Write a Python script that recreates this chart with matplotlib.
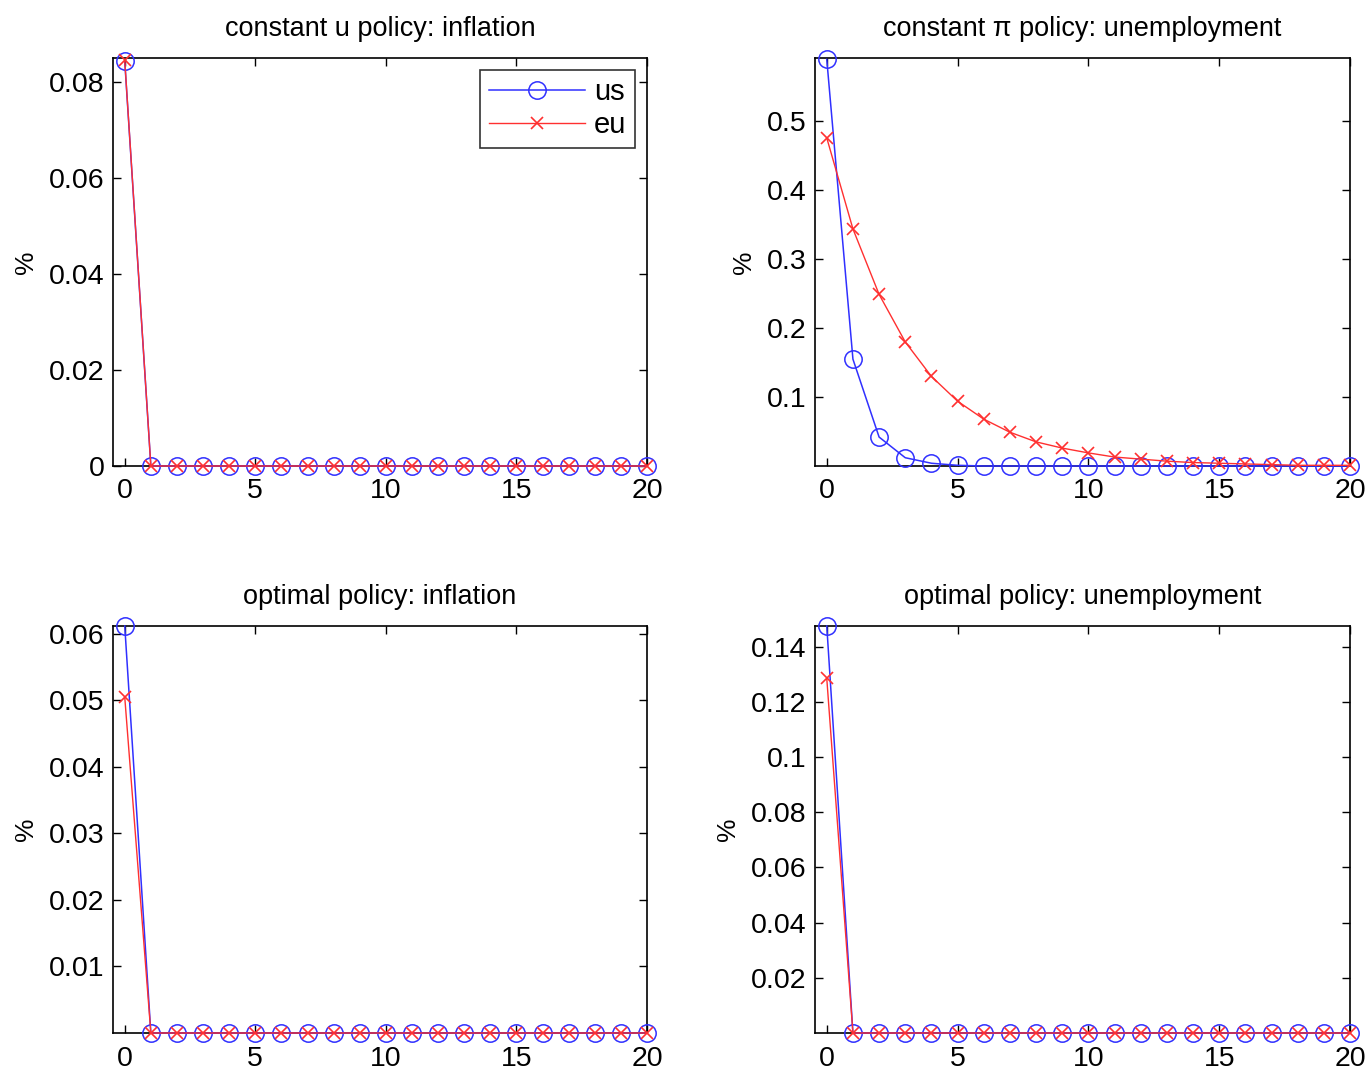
import numpy as np
import matplotlib
matplotlib.use("Agg")
import matplotlib.pyplot as plt

plt.rcParams['font.family'] = ['Liberation Sans', 'DejaVu Sans']

t = np.arange(0, 21)

# constant u policy: inflation
cu_infl_us = [0.0843] + [0.0] * 20
cu_infl_eu = [0.0845] + [0.0] * 20

# constant pi policy: unemployment
cp_unemp_us = [0.590, 0.155, 0.042, 0.012, 0.004, 0.001, 0.0, 0.0, 0.0, 0.0, 0.0,
               0.0, 0.0, 0.0, 0.0, 0.0, 0.0, 0.0, 0.0, 0.0, 0.0]
cp_unemp_eu = [0.476, 0.344, 0.249, 0.180, 0.130, 0.094, 0.068, 0.049, 0.035, 0.026, 0.019,
               0.013, 0.010, 0.007, 0.005, 0.004, 0.003, 0.002, 0.001, 0.001, 0.001]

# optimal policy: inflation
op_infl_us = [0.0612] + [0.0] * 20
op_infl_eu = [0.0505] + [0.0] * 20

# optimal policy: unemployment
op_unemp_us = [0.1475] + [0.0] * 20
op_unemp_eu = [0.1285] + [0.0] * 20

panels = [
    ("constant u policy: inflation", cu_infl_us, cu_infl_eu, (0, 0.085), [0, 0.02, 0.04, 0.06, 0.08],
     ["0", "0.02", "0.04", "0.06", "0.08"]),
    ("constant \u03c0 policy: unemployment", cp_unemp_us, cp_unemp_eu, (0, 0.592), [0.1, 0.2, 0.3, 0.4, 0.5],
     ["0.1", "0.2", "0.3", "0.4", "0.5"]),
    ("optimal policy: inflation", op_infl_us, op_infl_eu, (0, 0.0612), [0.01, 0.02, 0.03, 0.04, 0.05, 0.06],
     ["0.01", "0.02", "0.03", "0.04", "0.05", "0.06"]),
    ("optimal policy: unemployment", op_unemp_us, op_unemp_eu, (0, 0.1475),
     [0.02, 0.04, 0.06, 0.08, 0.1, 0.12, 0.14],
     ["0.02", "0.04", "0.06", "0.08", "0.1", "0.12", "0.14"]),
]

W, H = 1369, 1073
fig = plt.figure(figsize=(W / 100, H / 100), dpi=100)

# axes boxes in pixels: left, top, right, bottom
boxes = [(113, 58, 647, 466), (815, 58, 1350, 466),
         (113, 626, 647, 1033), (815, 626, 1350, 1033)]

for (title, us, eu, ylim, yt, ytl), (l, tp, r, b) in zip(panels, boxes):
    ax = fig.add_axes([l / W, 1 - b / H, (r - l) / W, (b - tp) / H])
    ax.plot(t, us, color='#3030ff', lw=1.1, marker='o', ms=12.5, mfc='none', mew=1.1,
            label='us', clip_on=False, zorder=3)
    ax.plot(t, eu, color='#ff3030', lw=1.0, marker='x', ms=9, mew=1.2,
            label='eu', clip_on=False, zorder=4)
    ax.set_xlim(-0.45, 20)
    ax.set_ylim(*ylim)
    ax.set_xticks([0, 5, 10, 15, 20])
    ax.set_yticks(yt)
    ax.set_yticklabels(ytl)
    ax.tick_params(direction='in', top=True, right=True, labelsize=20.5, length=6,
                   width=1, pad=6)
    ax.tick_params(axis='x', pad=9)
    for s in ax.spines.values():
        s.set_linewidth(1.2)
    ax.set_title(title, fontsize=19.5, pad=16)
    ax.set_ylabel('%', fontsize=19, labelpad=8)
    if title.startswith("constant u"):
        leg = ax.legend(loc='upper right', fontsize=21, frameon=True, fancybox=False,
                        edgecolor='black', handlelength=3.3, borderpad=0.3,
                        labelspacing=0.15, handletextpad=0.3, borderaxespad=0.4)
        leg.get_frame().set_linewidth(1.2)

fig.savefig('out.png', dpi=100)
